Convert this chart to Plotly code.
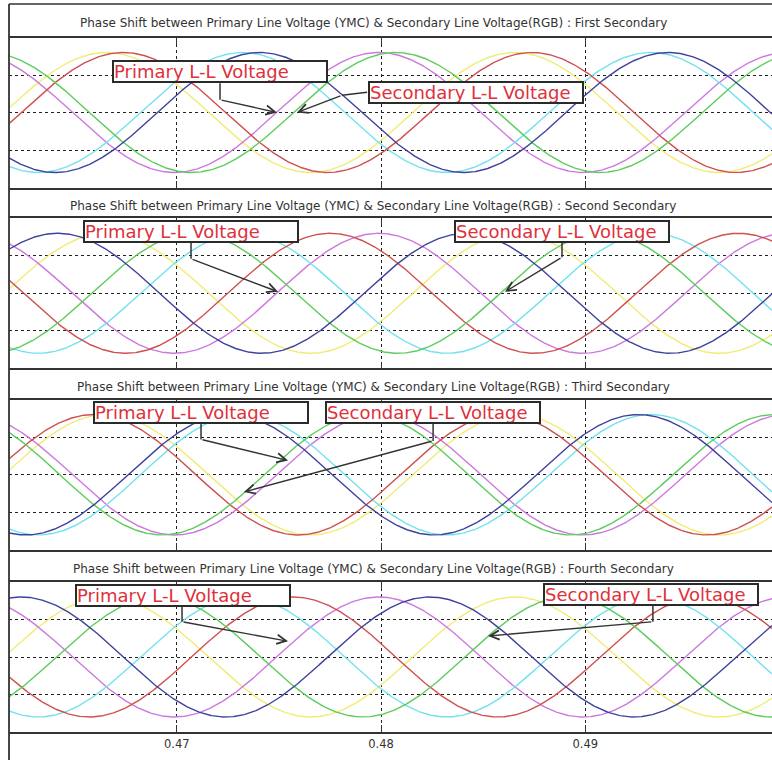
import numpy as np
import plotly.graph_objects as go
from plotly.subplots import make_subplots

# ---------------- data ----------------
panel_titles = [
    "Phase Shift between Primary Line Voltage (YMC) & Secondary Line Voltage(RGB) : First Secondary",
    "Phase Shift between Primary Line Voltage (YMC) & Secondary Line Voltage(RGB) : Second Secondary",
    "Phase Shift between Primary Line Voltage (YMC) & Secondary Line Voltage(RGB) : Third Secondary",
    "Phase Shift between Primary Line Voltage (YMC) & Secondary Line Voltage(RGB) : Fourth Secondary",
]
t_start, t_end = 0.46179, 0.49914          # visible time window (s)
freq_hz = 50.0                              # supply frequency
amplitude = 0.8                             # per-unit peak of every line voltage
n_samples = 900

series_names = ["Y", "M", "C", "R", "G", "B"]
# phase angles (deg) of the primary line voltages (same in every panel)
primary_phase_Y = [-28, -28, -28, -28]
primary_phase_M = [92, 92, 92, 92]
primary_phase_C = [-148, -148, -148, -148]
# phase angles (deg) of the secondary line voltages, one value per panel
secondary_phase_R = [-43, 135, -17, 167]
secondary_phase_G = [77, -105, 103, -74]
secondary_phase_B = [-163, 15, -137, 47]

x_tick_vals = [0.47, 0.48, 0.49]
x_tick_text = ["0.47", "0.48", "0.49"]
y_grid_vals = [-0.5, 0.0, 0.5]

# label boxes: (time, value) of box centre, line start, elbow, arrow tip
primary_box = [(0.47214, 0.54), (0.47072, 0.82), (0.47121, 0.83), (0.47031, 0.82)]
primary_start = [(0.47212, 0.39), (0.47070, 0.68), (0.47119, 0.69), (0.47026, 0.68)]
primary_elbow = [(0.47212, 0.17), (0.47070, 0.46), (0.47119, 0.47), (0.47026, 0.47)]
primary_tip = [(0.47491, 0.0), (0.47496, 0.02), (0.47545, 0.19), (0.47545, 0.21)]
secondary_box = [(0.48463, 0.27), (0.48884, 0.82), (0.48255, 0.83), (0.49324, 0.84)]
secondary_start = [(0.47932, 0.27), (0.48886, 0.68), (0.48255, 0.69), (0.49331, 0.70)]
secondary_elbow = [(0.47809, 0.23), (0.48886, 0.48), (0.48255, 0.45), (0.49331, 0.47)]
secondary_tip = [(0.47589, 0.0), (0.48607, 0.02), (0.47329, -0.23), (0.48524, 0.28)]

colors = {"Y": "#f1ec74", "M": "#cd78de", "C": "#72e2ee",
          "R": "#cf5050", "G": "#5ccc5c", "B": "#3d429c"}

# ---------------- figure geometry (pixels) ----------------
W, H = 772, 760
X_LEFT = 9
panels_px = [(4, 37.5, 187.5), (187.5, 218.3, 368.3), (368.3, 399.5, 550), (550, 582, 732)]
title_centres_px = [23, 206, 387.5, 569]
FONT = "DejaVu Sans, Verdana, Arial"


def py(p):
    return 1 - p / H


fig = make_subplots(rows=4, cols=1)
t = np.linspace(t_start, t_end, n_samples)
w = 2 * np.pi * freq_hz

for i in range(4):
    phases = {
        "Y": primary_phase_Y[i], "M": primary_phase_M[i], "C": primary_phase_C[i],
        "R": secondary_phase_R[i], "G": secondary_phase_G[i], "B": secondary_phase_B[i],
    }
    for name in series_names:
        v = amplitude * np.sin(w * t + np.deg2rad(phases[name]))
        fig.add_trace(go.Scatter(x=t, y=v, mode="lines", name=name, showlegend=False,
                                 line=dict(color=colors[name], width=1.4),
                                 hoverinfo="skip"), row=i + 1, col=1)

axis_line = "#333333"
for i in range(4):
    top, ptop, pbot = panels_px[i]
    xa = "xaxis" if i == 0 else f"xaxis{i+1}"
    ya = "yaxis" if i == 0 else f"yaxis{i+1}"
    fig.layout[xa].update(
        domain=[X_LEFT / W, 1], range=[t_start, t_end],
        tickvals=x_tick_vals, ticktext=x_tick_text,
        showticklabels=(i == 3), ticks="inside", ticklen=7, tickwidth=1.3,
        tickcolor=axis_line, mirror="ticks", showline=True, linecolor=axis_line,
        linewidth=1.5, showgrid=True, gridcolor="#222222", gridwidth=1, griddash="dot",
        zeroline=False, tickfont=dict(family=FONT, size=11.5, color="#333333"),
    )
    fig.layout[ya].update(
        domain=[py(pbot), py(ptop)], range=[-1, 1], tickvals=y_grid_vals,
        showticklabels=False, ticks="", showgrid=True, gridcolor="#222222",
        gridwidth=1, griddash="dot", zeroline=False, showline=False,
    )

shapes = [
    dict(type="line", xref="paper", yref="paper", x0=X_LEFT / W, x1=1, y0=py(4), y1=py(4),
         line=dict(color=axis_line, width=1.5)),
    dict(type="line", xref="paper", yref="paper", x0=X_LEFT / W, x1=X_LEFT / W, y0=0, y1=py(4),
         line=dict(color=axis_line, width=1.8)),
]
annotations = []
for i in range(4):
    annotations.append(dict(
        xref="paper", yref="paper", x=373 / W, y=py(title_centres_px[i]),
        text=panel_titles[i], showarrow=False, xanchor="center", yanchor="middle",
        font=dict(family=FONT, size=12, color="#333333")))
    xr = "x" if i == 0 else f"x{i+1}"
    yr = "y" if i == 0 else f"y{i+1}"
    for box, start, elbow, tip, label in [
        (primary_box[i], primary_start[i], primary_elbow[i], primary_tip[i], "Primary L-L Voltage"),
        (secondary_box[i], secondary_start[i], secondary_elbow[i], secondary_tip[i], "Secondary L-L Voltage"),
    ]:
        shapes.append(dict(type="line", xref=xr, yref=yr, x0=start[0], y0=start[1],
                           x1=elbow[0], y1=elbow[1], line=dict(color=axis_line, width=1.5)))
        annotations.append(dict(xref=xr, yref=yr, x=tip[0], y=tip[1], axref=xr, ayref=yr,
                                ax=elbow[0], ay=elbow[1], text="", showarrow=True,
                                arrowhead=5, arrowsize=1.3, arrowwidth=1.4, arrowcolor=axis_line,
                                standoff=0, startstandoff=0))
        annotations.append(dict(xref=xr, yref=yr, x=box[0], y=box[1], text=label,
                                showarrow=False, xanchor="center", yanchor="middle",
                                align="left", width=212, height=19, borderpad=0,
                                bordercolor="#2a2a2a", borderwidth=2, bgcolor="white",
                                font=dict(family=FONT, size=18, color="#e0303a")))

fig.update_layout(
    width=W, height=H, margin=dict(l=0, r=0, t=0, b=0),
    paper_bgcolor="white", plot_bgcolor="white",
    shapes=shapes, annotations=annotations, showlegend=False,
)

fig.write_html("out.html", config={"displayModeBar": False},
               post_script="document.body.style.margin='0px';document.body.style.overflow='hidden';")
